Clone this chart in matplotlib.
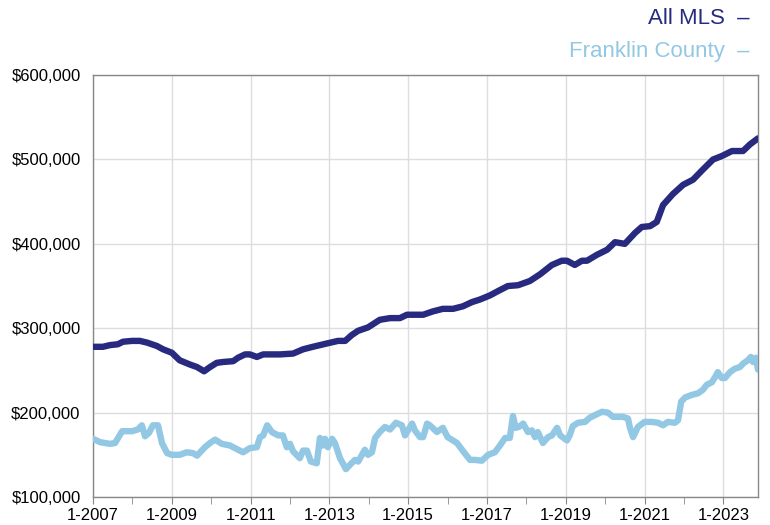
import matplotlib
matplotlib.use("Agg")
import matplotlib.pyplot as plt
from matplotlib.ticker import FuncFormatter, MultipleLocator

# All MLS (year as decimal, value in dollars)
mls_x = [2007.0, 2007.25, 2007.43, 2007.63, 2007.76, 2007.99, 2008.19, 2008.37, 2008.62, 2008.78,
         2009.0, 2009.2, 2009.46, 2009.64, 2009.82, 2009.97, 2010.14, 2010.3, 2010.56, 2010.68,
         2010.86, 2010.98, 2011.16, 2011.32, 2011.75, 2012.08, 2012.33, 2012.58, 2012.94, 2013.22,
         2013.4, 2013.57, 2013.73, 2013.98, 2014.28, 2014.54, 2014.79, 2014.97, 2015.38, 2015.63,
         2015.88, 2016.14, 2016.39, 2016.62, 2016.82, 2017.08, 2017.28, 2017.53, 2017.79, 2018.09,
         2018.35, 2018.65, 2018.9, 2019.03, 2019.23, 2019.41, 2019.54, 2019.79, 2020.05, 2020.25,
         2020.5, 2020.76, 2020.93, 2021.14, 2021.31, 2021.47, 2021.72, 2021.98, 2022.23, 2022.48,
         2022.74, 2022.96, 2023.22, 2023.5, 2023.68, 2023.88]
mls_y = [278000, 278000, 280000, 281000, 284000, 285000, 285000, 283000, 279000, 275000,
         271000, 262000, 257000, 254000, 249000, 254000, 259000, 260000, 261000, 265000,
         269000, 269000, 266000, 269000, 269000, 270000, 275000, 278000, 282000, 285000,
         285000, 292000, 297000, 301000, 310000, 312000, 312000, 316000, 316000, 320000,
         323000, 323000, 326000, 331000, 334000, 339000, 344000, 350000, 351000, 356000,
         364000, 375000, 380000, 380000, 375000, 380000, 380000, 387000, 393000, 402000,
         400000, 413000, 420000, 421000, 426000, 446000, 459000, 470000, 476000, 488000,
         500000, 504000, 510000, 510000, 518000, 525000]

# Franklin County
fc_x = [2007.0, 2007.18, 2007.43, 2007.56, 2007.74, 2007.99, 2008.14, 2008.24, 2008.32, 2008.42,
        2008.52, 2008.65, 2008.75, 2008.88, 2009.0, 2009.2, 2009.38, 2009.54, 2009.64, 2009.84,
        2009.97, 2010.1, 2010.27, 2010.48, 2010.6, 2010.81, 2010.98, 2011.16, 2011.24, 2011.32,
        2011.42, 2011.54, 2011.7, 2011.82, 2011.92, 2012.0, 2012.08, 2012.25, 2012.33, 2012.43,
        2012.53, 2012.68, 2012.76, 2012.84, 2012.89, 2012.96, 2013.07, 2013.14, 2013.27, 2013.42,
        2013.52, 2013.65, 2013.73, 2013.85, 2013.9, 2013.98, 2014.08, 2014.16, 2014.28, 2014.41,
        2014.54, 2014.69, 2014.84, 2014.92, 2015.1, 2015.17, 2015.3, 2015.38, 2015.48, 2015.55,
        2015.73, 2015.88, 2016.0, 2016.24, 2016.4, 2016.57, 2016.7, 2016.87, 2017.03, 2017.2,
        2017.33, 2017.46, 2017.58, 2017.66, 2017.73, 2017.81, 2017.92, 2018.04, 2018.14, 2018.22,
        2018.29, 2018.42, 2018.55, 2018.65, 2018.78, 2018.86, 2019.03, 2019.1, 2019.18, 2019.31,
        2019.49, 2019.61, 2019.74, 2019.92, 2020.07, 2020.2, 2020.45, 2020.58, 2020.63, 2020.71,
        2020.83, 2021.0, 2021.19, 2021.34, 2021.47, 2021.59, 2021.77, 2021.85, 2021.93, 2022.03,
        2022.2, 2022.36, 2022.48, 2022.58, 2022.71, 2022.79, 2022.86, 2022.96, 2023.04, 2023.17,
        2023.29, 2023.42, 2023.5, 2023.62, 2023.7, 2023.75, 2023.83, 2023.88]
fc_y = [169000, 165000, 163000, 164000, 178000, 178000, 180000, 185000, 172000, 176000,
        185000, 185000, 164000, 152000, 150000, 150000, 153000, 152000, 149000, 159000,
        164000, 168000, 163000, 161000, 158000, 153000, 158000, 159000, 171000, 173000,
        185000, 177000, 173000, 173000, 159000, 163000, 154000, 146000, 155000, 155000,
        142000, 140000, 170000, 161000, 169000, 159000, 169000, 164000, 146000, 133000,
        138000, 144000, 142000, 152000, 156000, 150000, 153000, 170000, 177000, 183000,
        180000, 188000, 185000, 173000, 187000, 179000, 171000, 171000, 187000, 185000,
        177000, 182000, 171000, 164000, 154000, 144000, 144000, 143000, 150000, 153000,
        161000, 170000, 170000, 196000, 182000, 183000, 187000, 177000, 179000, 171000,
        177000, 164000, 171000, 173000, 182000, 173000, 167000, 173000, 184000, 188000,
        189000, 194000, 197000, 201000, 200000, 195000, 195000, 193000, 182000, 171000,
        183000, 189000, 189000, 188000, 185000, 189000, 188000, 191000, 213000, 218000,
        221000, 223000, 227000, 233000, 236000, 242000, 248000, 241000, 241000, 248000,
        252000, 254000, 258000, 262000, 266000, 260000, 265000, 251000]

NAVY = "#272a7e"
LIGHT = "#93c8e4"

plt.rcParams['font.family'] = ['Liberation Sans', 'DejaVu Sans']

fig = plt.figure(figsize=(7.7, 5.25), dpi=100)
ax = fig.add_axes([0.1208, 0.0533, 0.8636, 0.8037])

ax.plot(fc_x, fc_y, color=LIGHT, lw=4.6, solid_joinstyle="round", solid_capstyle="round", zorder=3)
ax.plot(mls_x, mls_y, color=NAVY, lw=4.6, solid_joinstyle="round", solid_capstyle="round", zorder=4)

ax.set_xlim(2007.0, 2023.88)
ax.set_ylim(100000, 600000)

ax.set_xticks(range(2007, 2024, 2))
ax.set_xticklabels([f"1-{y}" for y in range(2007, 2024, 2)])
ax.xaxis.set_minor_locator(MultipleLocator(1))
ax.set_yticks(range(100000, 600001, 100000))
ax.yaxis.set_major_formatter(FuncFormatter(lambda v, p: f"${int(v):,}"))

ax.grid(True, which="major", color="#dddddd", lw=1)
ax.set_axisbelow(True)
for s in ax.spines.values():
    s.set_color("#888888")
    s.set_linewidth(1)

ax.tick_params(axis="x", which="both", direction="out", length=5, color="#888888",
               labelsize=12, pad=3)
ax.tick_params(axis="y", length=0, labelsize=12, pad=9)

fig.text(0.974, 0.965, "All MLS  \u2013", color=NAVY, fontsize=16, ha="right", va="center")
fig.text(0.974, 0.902, "Franklin County  \u2013", color=LIGHT, fontsize=16, ha="right", va="center")

fig.savefig("out.png", dpi=100)
